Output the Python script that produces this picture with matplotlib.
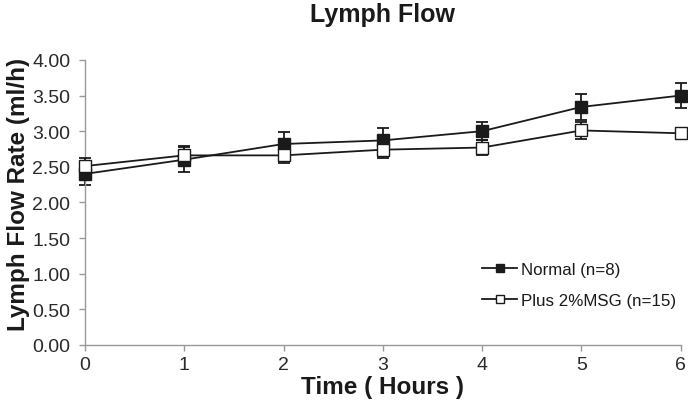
import matplotlib.pyplot as plt
import numpy as np

plt.rcParams['font.family'] = ['Liberation Sans', 'DejaVu Sans']

# Data
hours = [0, 1, 2, 3, 4, 5, 6]
normal = [2.40, 2.60, 2.82, 2.87, 3.00, 3.34, 3.50]
normal_err = [0.15, 0.18, 0.17, 0.18, 0.13, 0.18, 0.18]
msg = [2.51, 2.66, 2.66, 2.74, 2.77, 3.01, 2.97]
msg_err = [0.11, 0.13, 0.10, 0.11, 0.10, 0.12, 0.08]

fig = plt.figure(figsize=(6.88, 4.06), dpi=100)
ax = fig.add_axes([0.1235, 0.148, 0.866, 0.702])

dark = "#1a1a1a"
# error bars (no legend entry), then lines + markers on top
ax.errorbar(hours, normal, yerr=normal_err, fmt="none", ecolor=dark,
            elinewidth=1.3, capsize=4, capthick=1.3, clip_on=False, zorder=2)
ax.plot(hours, normal, color=dark, marker="s", markersize=8.5, markerfacecolor=dark,
        markeredgecolor=dark, linewidth=1.3, label="Normal (n=8)", clip_on=False, zorder=3)
ax.errorbar(hours, msg, yerr=msg_err, fmt="none", ecolor=dark,
            elinewidth=1.3, capsize=4, capthick=1.3, clip_on=False, zorder=4)
ax.plot(hours, msg, color=dark, marker="s", markersize=8.5, markerfacecolor="white",
        markeredgecolor=dark, linewidth=1.3, label="Plus 2%MSG (n=15)", clip_on=False, zorder=5)

ax.set_xlim(0, 6)
ax.set_ylim(0, 4)
ax.set_xticks(hours)
ax.set_yticks(np.arange(0, 4.01, 0.5))
ax.set_yticklabels([f"{v:.2f}" for v in np.arange(0, 4.01, 0.5)])

for side in ["top", "right"]:
    ax.spines[side].set_visible(False)
for side in ["left", "bottom"]:
    ax.spines[side].set_color("#999999")
    ax.spines[side].set_linewidth(1.0)
ax.tick_params(colors="#999999", labelcolor="#2a2a2a", labelsize=14, length=4.5, width=1.0)
ax.tick_params(axis="y", pad=6)
ax.tick_params(axis="x", pad=3.5)

ax.set_title("Lymph Flow", fontsize=18, fontweight="bold", pad=28, color="#1a1a1a")
ax.set_xlabel("Time ( Hours )", fontsize=17.5, fontweight="bold", labelpad=1.5, color="#1a1a1a")
ax.set_ylabel("Lymph Flow Rate (ml/h)", fontsize=17.5, fontweight="bold", color="#1a1a1a")
ax.yaxis.set_label_coords(-0.092, 0.53)

leg = ax.legend(loc="lower right", bbox_to_anchor=(1.006, 0.1), frameon=False, fontsize=12.2,
                handlelength=2.1, labelspacing=0.95, handletextpad=0.2, markerscale=0.7,
                borderpad=0)
for t in leg.get_texts():
    t.set_color("#1a1a1a")

fig.savefig("out.png", dpi=100)
